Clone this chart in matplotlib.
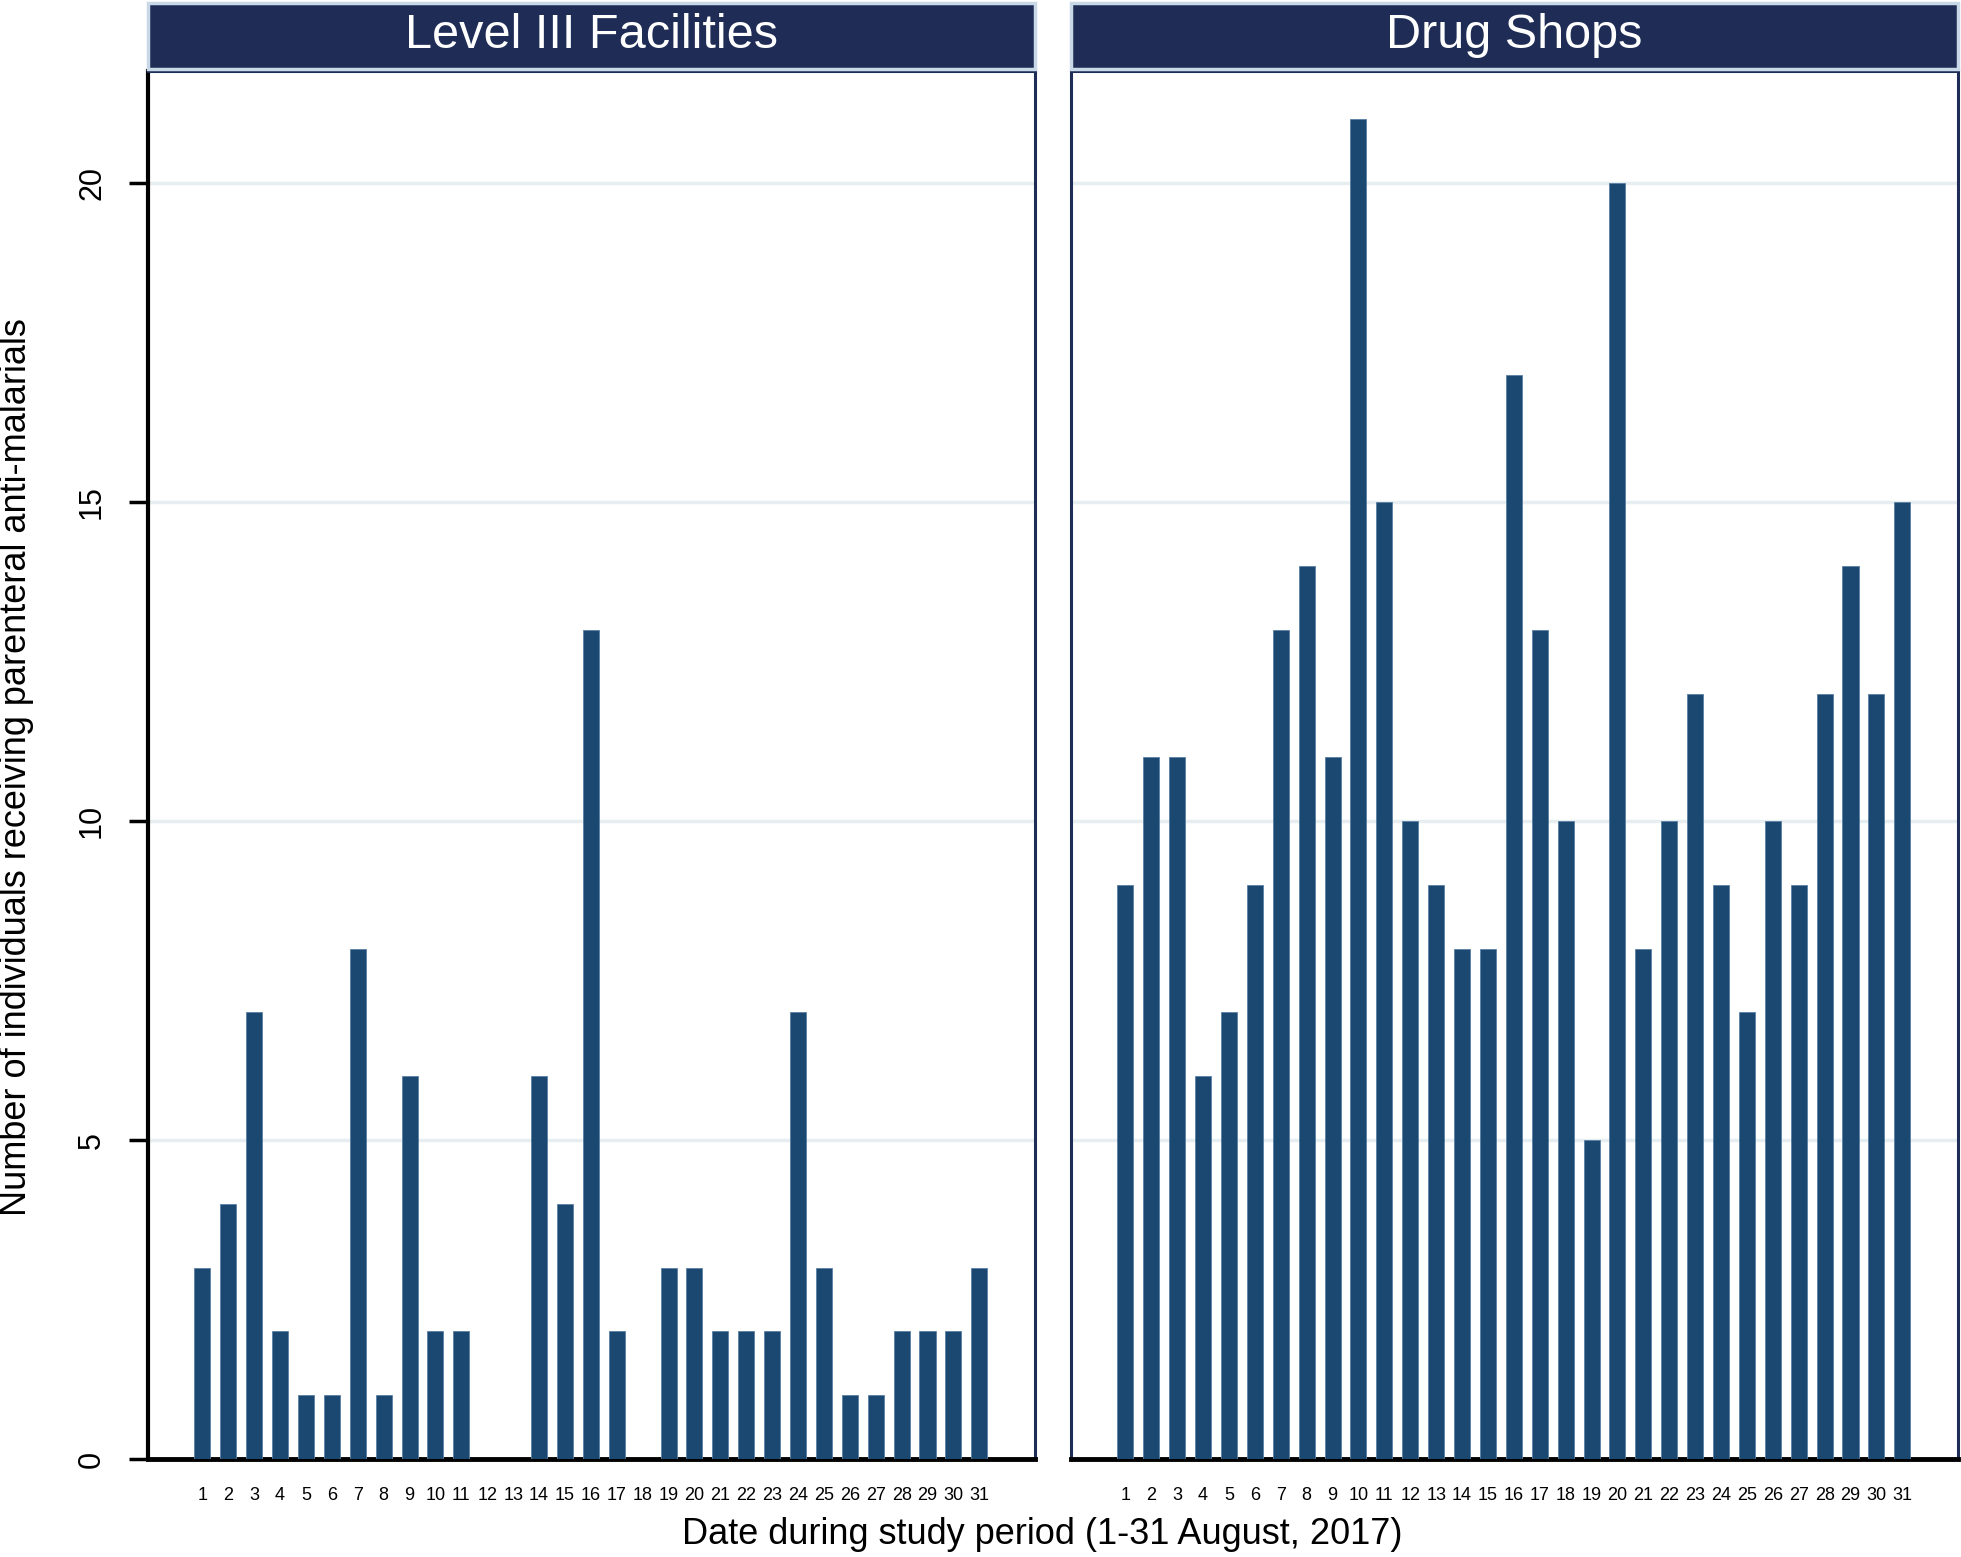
import numpy as np
import matplotlib
matplotlib.use("Agg")
import matplotlib.pyplot as plt
from matplotlib.patches import Rectangle

plt.rcParams['font.family'] = ['Liberation Sans Narrow', 'Liberation Sans', 'DejaVu Sans']

days = list(range(1, 32))
level3 = [3, 4, 7, 2, 1, 1, 8, 1, 6, 2, 2, 0, 0, 6, 4, 13, 2, 0, 3, 3, 2, 2, 2, 7, 3, 1, 1, 2, 2, 2, 3]
drug_shops = [9, 11, 11, 6, 7, 9, 13, 14, 11, 21, 15, 10, 9, 8, 8, 17, 13, 10, 5, 20,
              8, 10, 12, 9, 7, 10, 9, 12, 14, 12, 15]
panel_titles = ["Level III Facilities", "Drug Shops"]
y_ticks = [0, 5, 10, 15, 20]

BAR = "#1b4870"
NAVY = "#1f2d56"
GRID = "#e6eef2"
W, H = 1961, 1557

fig = plt.figure(figsize=(W / 100, H / 100), dpi=100)
# axes boxes in pixels: left, right
boxes = [(148, 1035), (1071, 1958)]
top, bottom = 71, 1459

for i, (data, title) in enumerate(zip([level3, drug_shops], panel_titles)):
    x0, x1 = boxes[i]
    ax = fig.add_axes([x0 / W, 1 - bottom / H, (x1 - x0) / W, (bottom - top) / H])
    ax.bar(days, data, width=0.62, color=BAR, edgecolor="#5a7fa3", linewidth=0.6, zorder=3)
    ax.set_xlim(-1.1, 33.15)
    ax.set_ylim(0, 21.76)
    ax.set_yticks(y_ticks)
    ax.grid(axis="y", color=GRID, linewidth=2.5, zorder=0)
    ax.set_xticks(days)
    ax.set_xticklabels([str(d) for d in days], fontsize=13)
    ax.tick_params(axis="x", length=0, pad=20)
    for s in ax.spines.values():
        s.set_color(NAVY)
        s.set_linewidth(2.2)
    ax.spines["bottom"].set_color("black")
    ax.spines["bottom"].set_linewidth(3.5)
    if i == 0:
        ax.spines["left"].set_color("black")
        ax.spines["left"].set_linewidth(3)
        ax.set_yticklabels([str(t) for t in y_ticks], fontsize=22, rotation=90, va="center")
        ax.tick_params(axis="y", length=13.5, width=2.5, pad=16)
    else:
        ax.tick_params(axis="y", length=0, labelleft=False)
    # header strip
    fig.patches.append(Rectangle((x0 / W, 1 - 69 / H), (x1 - x0) / W, 66 / H,
                                 transform=fig.transFigure, facecolor=NAVY,
                                 edgecolor="#c9d8e6", linewidth=2.5))
    fig.text((x0 + x1) / 2 / W, 1 - 36 / H, title, color="white", fontsize=35,
             ha="center", va="center")

fig.text(17 / W, 1 - 767 / H, "Number of individuals receiving parenteral anti-malarials",
         fontsize=26, rotation=90, ha="center", va="center")
fig.text(1042 / W, 1 - 1535 / H, "Date during study period (1-31 August, 2017)",
         fontsize=26, ha="center", va="center")

fig.savefig("out.png", dpi=100)
